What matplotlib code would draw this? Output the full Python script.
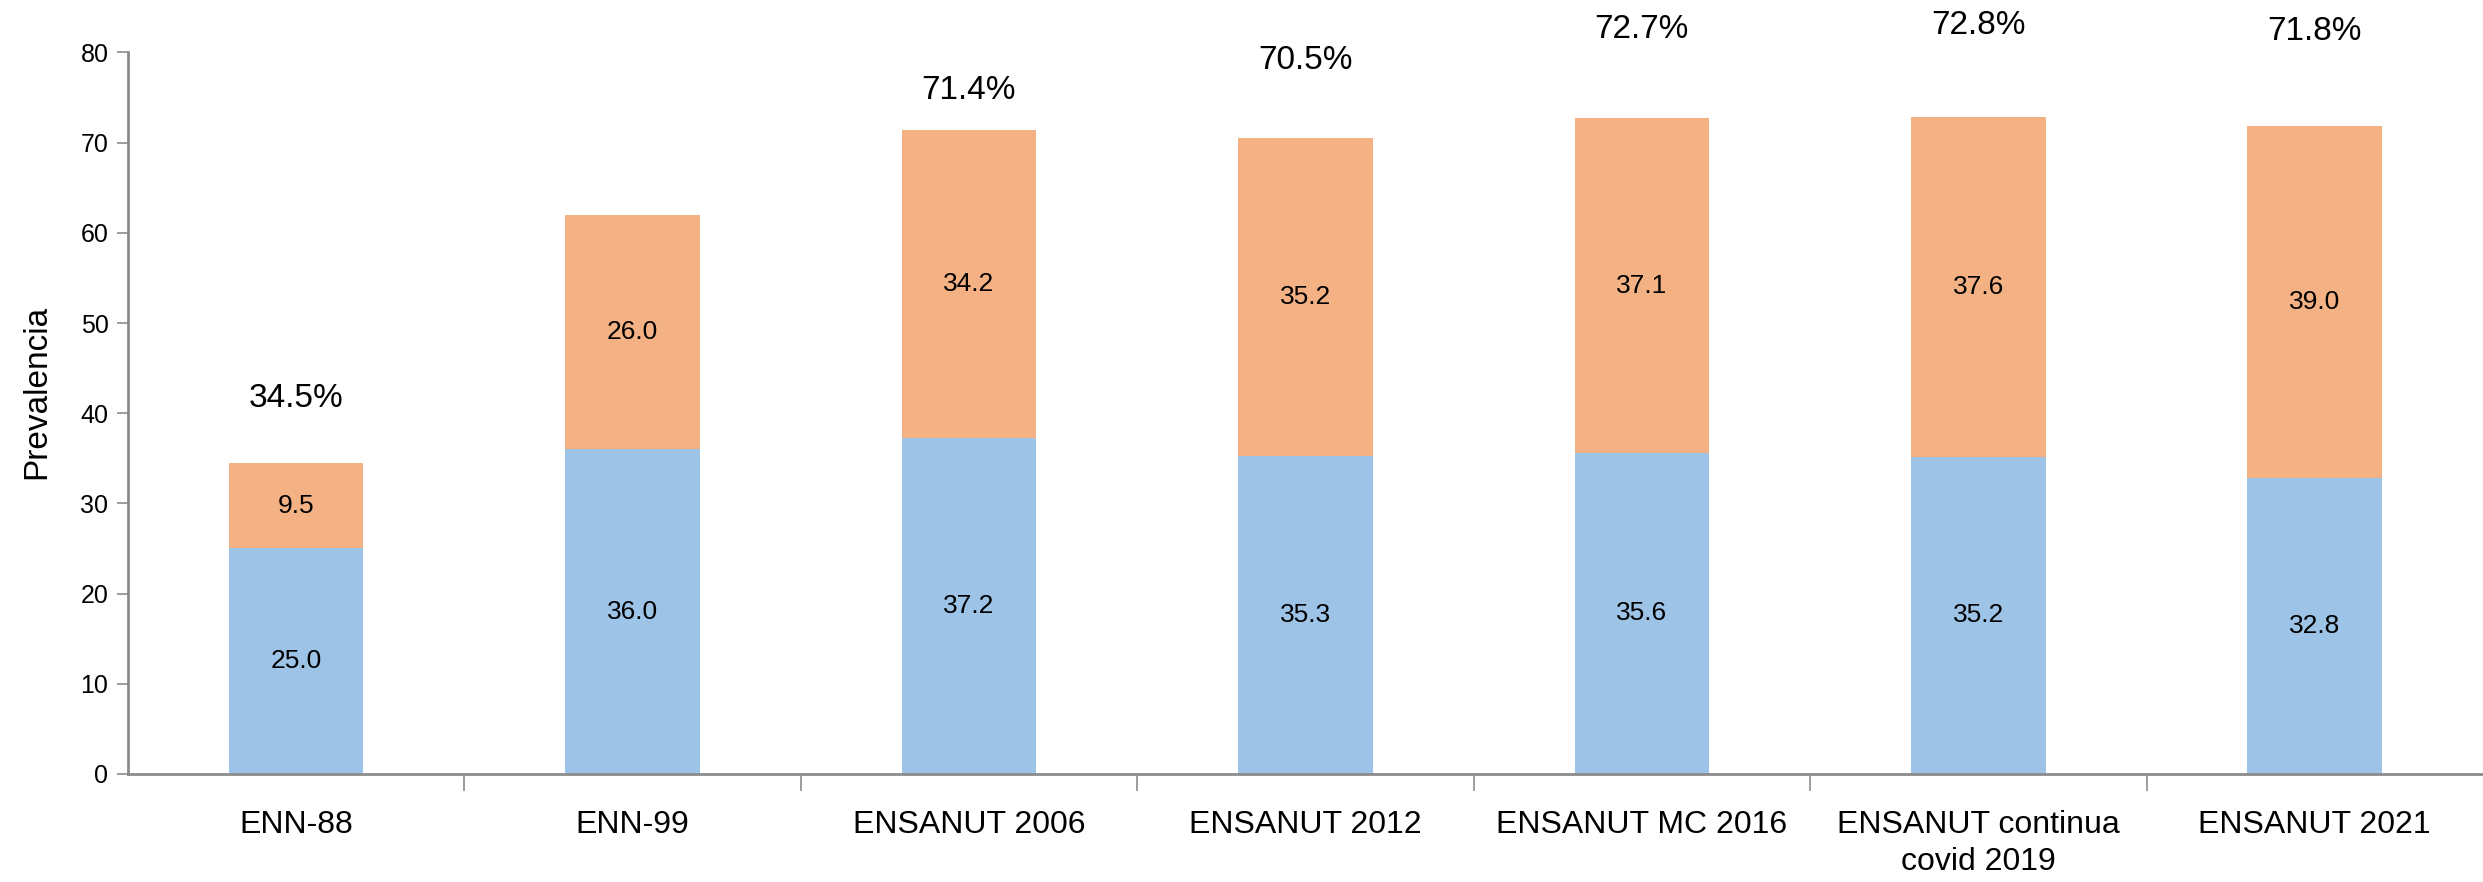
import matplotlib
matplotlib.use('Agg')
import matplotlib.pyplot as plt
import numpy as np

plt.rcParams['font.family'] = ['Liberation Sans Narrow', 'Liberation Sans', 'DejaVu Sans']

# ---------------- data ----------------
surveys = ['ENN-88', 'ENN-99', 'ENSANUT 2006', 'ENSANUT 2012', 'ENSANUT MC 2016',
           'ENSANUT continua\ncovid 2019', 'ENSANUT 2021']
lower = [25.0, 36.0, 37.2, 35.3, 35.6, 35.2, 32.8]   # blue segment
upper = [9.5, 26.0, 34.2, 35.2, 37.1, 37.6, 39.0]    # orange segment
totals = ['34.5%', '', '71.4%', '70.5%', '72.7%', '72.8%', '71.8%']
total_y = [41.6, 0, 75.8, 79.1, 82.5, 83.0, 82.3]    # where the total labels sit

blue = '#9DC3E6'
orange = '#F4B183'
gray = '#8C8C8C'

fig = plt.figure(figsize=(24.83, 8.82), dpi=100)
ax = fig.add_axes([0.0515, 0.1225, 0.9485, 0.818])

x = np.arange(len(surveys))
w = 0.4
ax.bar(x, lower, w, color=blue, zorder=2)
ax.bar(x, upper, w, bottom=lower, color=orange, zorder=2)

for i in range(len(surveys)):
    ax.text(x[i], lower[i] / 2, '%.1f' % lower[i], ha='center', va='center', fontsize=19)
    ax.text(x[i], lower[i] + upper[i] / 2, '%.1f' % upper[i], ha='center', va='center', fontsize=19)
    if totals[i]:
        ax.text(x[i], total_y[i], totals[i], ha='center', va='center', fontsize=24,
                clip_on=False)

ax.set_xlim(-0.5, len(surveys) - 0.5)
ax.set_ylim(0, 80)
ax.set_yticks(range(0, 81, 10))
ax.tick_params(axis='y', labelsize=18, length=8, width=1.2, color=gray, pad=6)

# category labels between the tick marks
ax.set_xticks(x[:-1] + 0.5)
ax.set_xticklabels([])
ax.tick_params(axis='x', length=12, width=1.2, color=gray)
for i, s in enumerate(surveys):
    ax.text(x[i], -4.0, s, ha='center', va='top', fontsize=23, linespacing=1.3,
            clip_on=False)

for side in ['top', 'right']:
    ax.spines[side].set_visible(False)
for side in ['left', 'bottom']:
    ax.spines[side].set_color(gray)
    ax.spines[side].set_linewidth(2)

ax.set_ylabel('Prevalencia', fontsize=24)
ax.yaxis.set_label_coords(-0.032, 0.53)

fig.savefig('out.png', dpi=100)
